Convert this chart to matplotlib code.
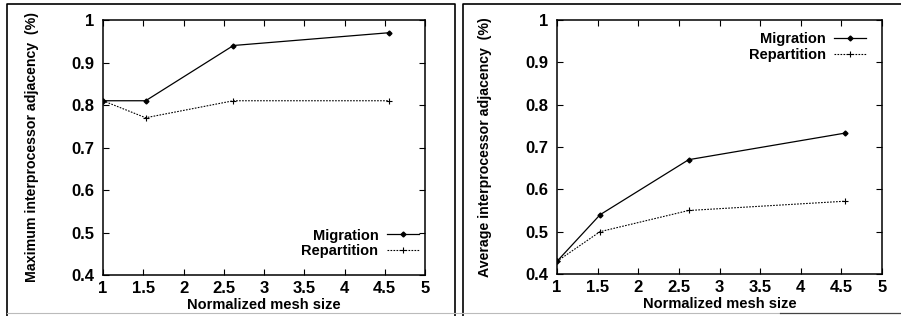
import matplotlib
matplotlib.use("Agg")
import matplotlib.pyplot as plt
from matplotlib.lines import Line2D

plt.rcParams['font.family'] = ['Liberation Sans', 'DejaVu Sans']
plt.rcParams['font.weight'] = 'bold'

# data
mesh_size = [1.0, 1.53, 2.62, 4.55]
max_migration = [0.81, 0.81, 0.94, 0.97]
max_repartition = [0.81, 0.77, 0.81, 0.81]
avg_migration = [0.43, 0.54, 0.67, 0.733]
avg_repartition = [0.43, 0.50, 0.55, 0.572]

x_ticks = [1, 1.5, 2, 2.5, 3, 3.5, 4, 4.5, 5]
x_labels = ['1', '1.5', '2', '2.5', '3', '3.5', '4', '4.5', '5']
y_ticks = [0.4, 0.5, 0.6, 0.7, 0.8, 0.9, 1.0]
y_labels = ['0.4', '0.5', '0.6', '0.7', '0.8', '0.9', '1']

W, H = 901, 316
fig = plt.figure(figsize=(W / 100, H / 100), dpi=100)


def px_box(x0, y0, x1, y1):
    # pixel box (top-left origin) -> figure fraction [l, b, w, h]
    return [x0 / W, 1 - y1 / H, (x1 - x0) / W, (y1 - y0) / H]


def frame(x0, y0, x1, y1):
    xs = [x0 / W, x0 / W, x1 / W, x1 / W]
    ys = [1 - y1 / H, 1 - y0 / H, 1 - y0 / H, 1 - y1 / H]
    fig.add_artist(Line2D(xs, ys, color='black', lw=1.2))


# scanned page frames round each panel
frame(7, 4, 455, 320)
frame(463, 4, 905, 320)
fig.add_artist(Line2D([7 / W, 780 / W], [1 - 313 / H] * 2, color='#bbbbbb', lw=0.8))
fig.add_artist(Line2D([780 / W, 901 / W], [1 - 313 / H] * 2, color='#444444', lw=0.9))


def panel(box, mig, rep, ylabel, legend_xy):
    ax = fig.add_axes(px_box(*box))
    ax.plot(mesh_size, mig, color='black', lw=0.9, ls='-',
            marker='D', ms=2.5, label='Migration')
    ax.plot(mesh_size, rep, color='black', lw=0.8, ls=(0, (1.5, 1.2)),
            marker='+', ms=4, mew=0.8, label='Repartition')
    ax.set_xlim(1, 5)
    ax.set_ylim(0.4, 1.0)
    ax.set_xticks(x_ticks)
    ax.set_xticklabels(x_labels)
    ax.set_yticks(y_ticks)
    ax.set_yticklabels(y_labels)
    ax.tick_params(direction='in', length=4, width=0.8, top=True, right=True,
                   labelsize=12, pad=6)
    ax.tick_params(axis='x', pad=4)
    for lab in ax.get_xticklabels() + ax.get_yticklabels():
        lab.set_fontweight('bold')
    for s in ax.spines.values():
        s.set_linewidth(1.1)
    ax.set_xlabel('Normalized mesh size', fontsize=10.5, fontweight='bold', labelpad=1.5)
    ax.set_ylabel(ylabel, fontsize=10.2, fontweight='bold')
    ax.yaxis.set_label_coords(-0.20, 0.5)
    leg = ax.legend(loc='upper right', bbox_to_anchor=legend_xy, frameon=False,
                    fontsize=10.5, markerfirst=False, handlelength=2.2,
                    handletextpad=0.6, labelspacing=0.1, borderaxespad=0)
    for t in leg.get_texts():
        t.set_fontweight('bold')
    return ax


panel((103, 20, 425, 275), max_migration, max_repartition,
      'Maximum interprocessor adjacency  (%)', (1.0, 0.205))
panel((557, 20, 882, 274), avg_migration, avg_repartition,
      'Average interprocessor adjacency  (%)', (0.97, 0.975))

fig.savefig('out.png', dpi=100)
